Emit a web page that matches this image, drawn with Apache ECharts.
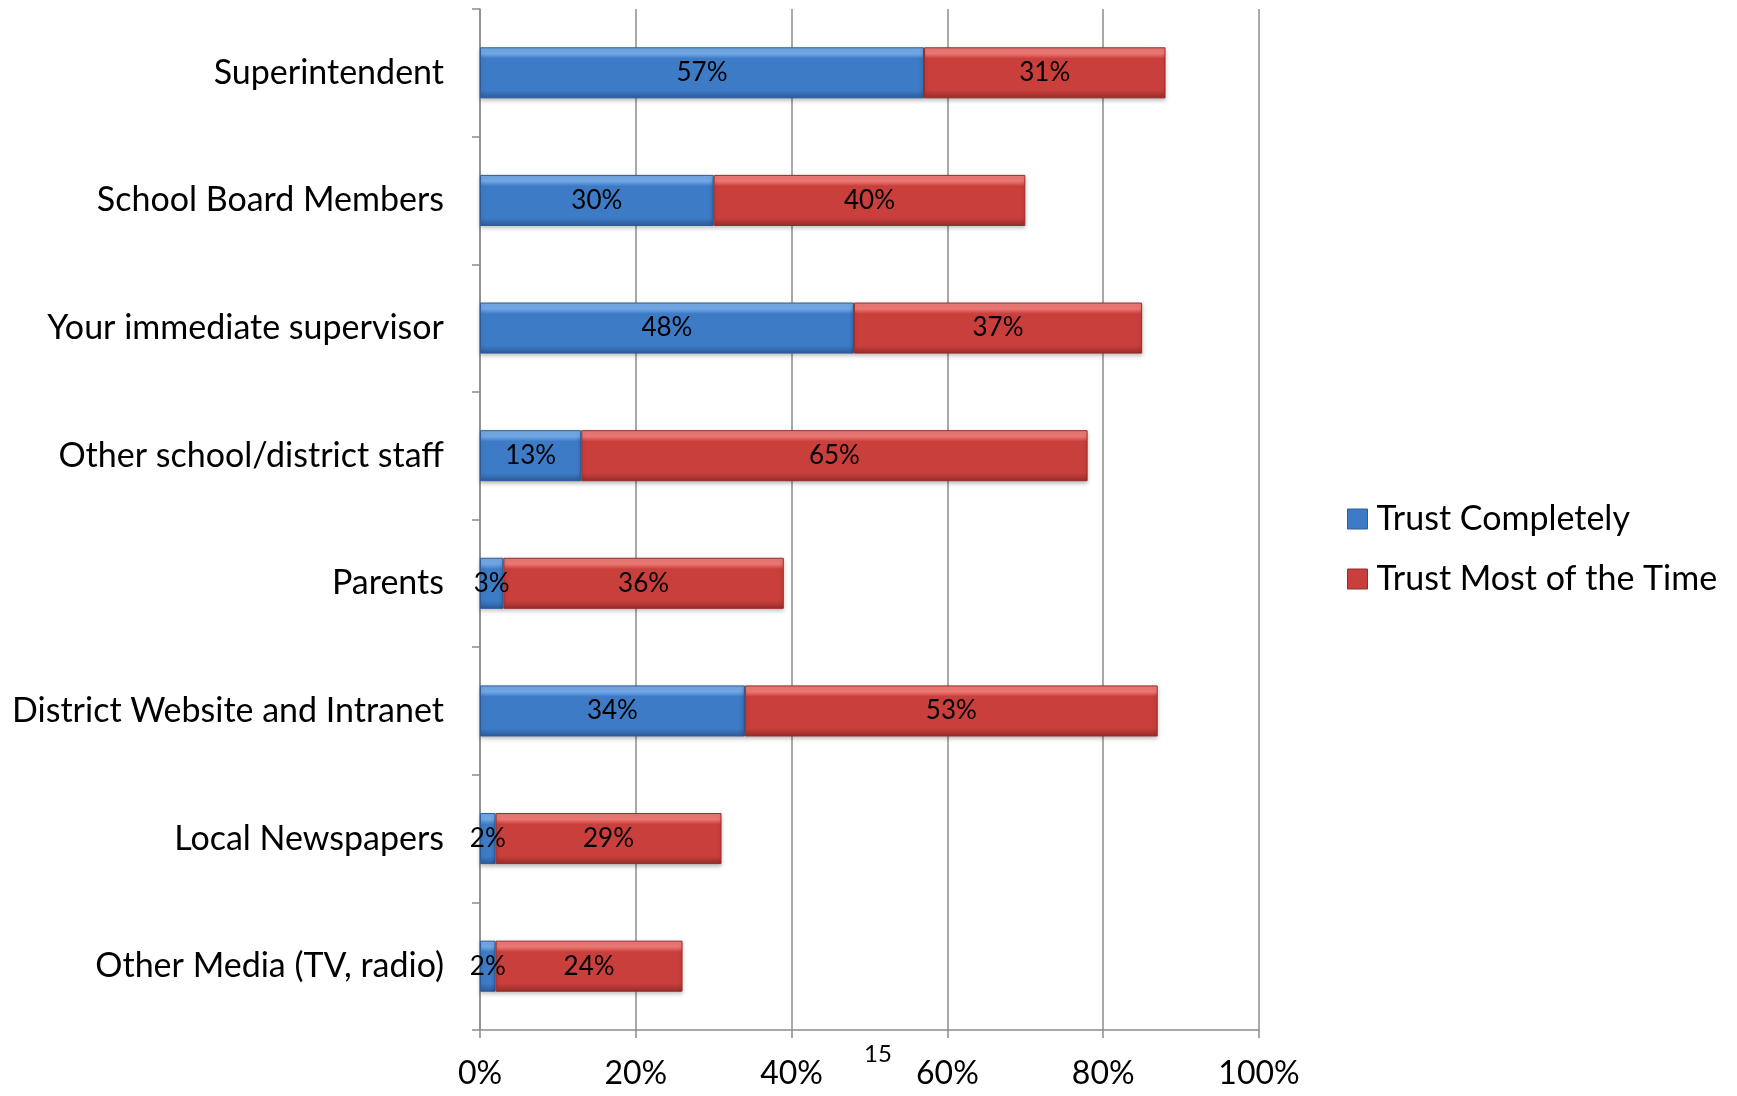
<!DOCTYPE html>
<html>
<head>
<meta charset="utf-8">
<title>Trust in information sources</title>
<script src="https://cdn.jsdelivr.net/npm/echarts@6/dist/echarts.min.js"></script>
<style>
  html, body { margin: 0; padding: 0; background: #ffffff; }
  #chart { width: 1737px; height: 1096px; }
</style>
</head>
<body>
<div id="chart"></div>
<script>
// Sources asked about, top to bottom
const categories = [
  'Superintendent',
  'School Board Members',
  'Your immediate supervisor',
  'Other school/district staff',
  'Parents',
  'District Website and Intranet',
  'Local Newspapers',
  'Other Media (TV, radio)'
];

// Percent of respondents per trust level
const trustCompletely = [57, 30, 48, 13, 3, 34, 2, 2];
const trustMostOfTheTime = [31, 40, 37, 65, 36, 53, 29, 24];

const seriesNames = ['Trust Completely', 'Trust Most of the Time'];
const tickValues = [0, 20, 40, 60, 80, 100];

const FONT = 'Lato, "Noto Sans", sans-serif';

// Bevel-like vertical gradients for the bars
function bevel(light, mid, dark) {
  return new echarts.graphic.LinearGradient(0, 0, 0, 1, [
    { offset: 0, color: light },
    { offset: 0.12, color: light },
    { offset: 0.22, color: mid },
    { offset: 0.84, color: mid },
    { offset: 1, color: dark }
  ]);
}
const blueFill = bevel('#74aae8', '#3e7bc7', '#2c5c99');
const redFill = bevel('#ee7a76', '#c93f3c', '#962d2b');

const chart = echarts.init(document.getElementById('chart'), null, { renderer: 'canvas' });

const labelStyle = {
  show: true,
  position: 'inside',
  formatter: '{c}%',
  color: '#000',
  fontFamily: FONT,
  fontSize: 26
};

chart.setOption({
  animation: false,
  backgroundColor: '#ffffff',
  grid: { left: 480, right: 478, top: 9, bottom: 66, containLabel: false },
  legend: {
    orient: 'vertical',
    left: 1342,
    top: 497,
    itemWidth: 20,
    itemHeight: 20,
    itemGap: 26,
    icon: 'rect',
    textStyle: { fontFamily: FONT, fontSize: 34, color: '#000', padding: [0, 0, 0, 4] },
    data: [
      { name: seriesNames[0], itemStyle: { color: '#3e7bc7', borderColor: '#2c5c99', borderWidth: 1 } },
      { name: seriesNames[1], itemStyle: { color: '#c93f3c', borderColor: '#962d2b', borderWidth: 1 } }
    ]
  },
  xAxis: {
    type: 'value',
    min: 0,
    max: 100,
    interval: 20,
    axisLine: { show: true, lineStyle: { color: '#8c8c8c', width: 1.5 } },
    axisTick: { show: true, length: 8, lineStyle: { color: '#8c8c8c', width: 1.5 } },
    splitLine: { show: true, lineStyle: { color: '#8c8c8c', width: 1.5 } },
    axisLabel: {
      formatter: v => tickValues.includes(v) ? v + '%' : '',
      fontFamily: FONT,
      fontSize: 32,
      color: '#000',
      margin: 28
    }
  },
  yAxis: {
    type: 'category',
    inverse: true,
    data: categories,
    axisLine: { show: true, lineStyle: { color: '#8c8c8c', width: 1.5 } },
    axisTick: { show: true, length: 8, lineStyle: { color: '#8c8c8c', width: 1.5 } },
    axisLabel: { fontFamily: FONT, fontSize: 34, color: '#000', margin: 36 }
  },
  series: [
    {
      name: seriesNames[0],
      type: 'bar',
      stack: 'trust',
      data: trustCompletely,
      barCategoryGap: '60%',
      itemStyle: { color: blueFill, borderColor: '#2c5c99', borderWidth: 1, shadowColor: 'rgba(0,0,0,0.25)', shadowBlur: 4, shadowOffsetY: 2 },
      label: labelStyle,
      emphasis: { disabled: true }
    },
    {
      name: seriesNames[1],
      type: 'bar',
      stack: 'trust',
      data: trustMostOfTheTime,
      barCategoryGap: '60%',
      itemStyle: { color: redFill, borderColor: '#962d2b', borderWidth: 1, shadowColor: 'rgba(0,0,0,0.25)', shadowBlur: 4, shadowOffsetY: 2 },
      label: labelStyle,
      emphasis: { disabled: true }
    }
  ],
  graphic: [
    {
      type: 'text',
      left: 864,
      top: 1042,
      style: { text: '15', fontFamily: FONT, fontSize: 24, fill: '#000' }
    }
  ]
});
</script>
</body>
</html>
